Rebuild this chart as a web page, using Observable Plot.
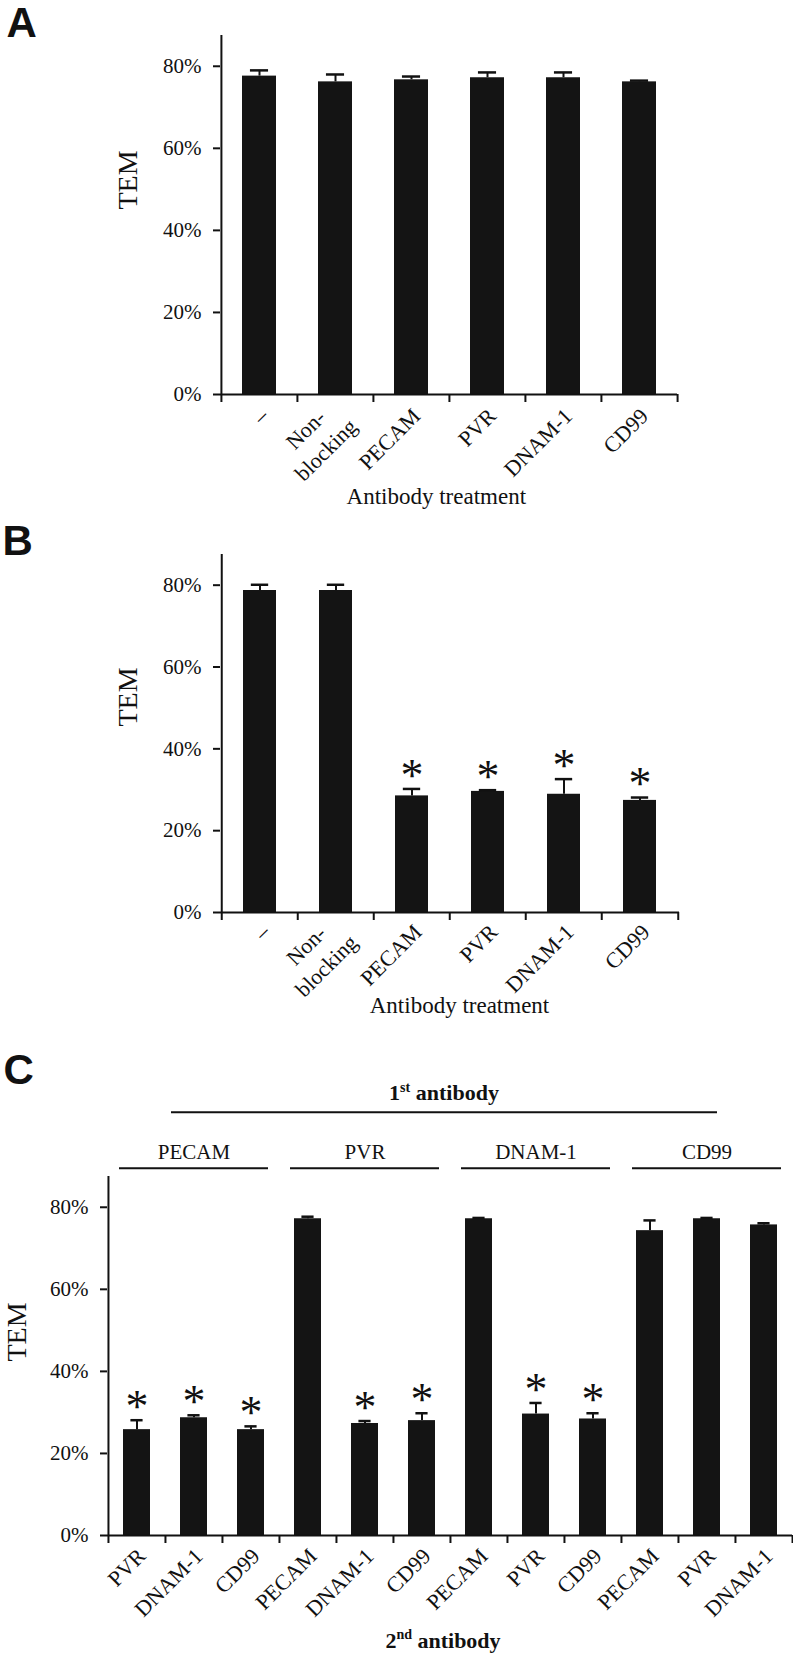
<!DOCTYPE html>
<html><head><meta charset="utf-8">
<script src="https://cdn.jsdelivr.net/npm/d3@7"></script>
<script src="https://cdn.jsdelivr.net/npm/@observablehq/plot@0.6"></script>
<style>
html,body{margin:0;padding:0;background:#fff;}
#root{position:relative;width:793px;height:1656px;overflow:hidden;background:#fff;}
.panel{position:absolute;left:0;}
</style></head><body><div id="root"></div>
<script>
// ---------- data ----------
const treatments = ["–", "Non-\nblocking", "PECAM", "PVR", "DNAM-1", "CD99"];
const temA = [77.6, 76.2, 76.7, 77.2, 77.2, 76.2];
const semA = [1.4, 1.8, 0.8, 1.3, 1.3, 0.3];
const sigA = [false, false, false, false, false, false];

const temB = [78.7, 78.7, 28.5, 29.6, 28.9, 27.4];
const semB = [1.4, 1.4, 1.7, 0.3, 3.7, 0.7];
const sigB = [false, false, true, true, true, true];

const firstAb  = ["PECAM","PECAM","PECAM","PVR","PVR","PVR","DNAM-1","DNAM-1","DNAM-1","CD99","CD99","CD99"];
const secondAb = ["PVR","DNAM-1","CD99","PECAM","DNAM-1","CD99","PECAM","PVR","CD99","PECAM","PVR","DNAM-1"];
const temC = [25.8, 28.7, 25.8, 77.2, 27.3, 28.0, 77.2, 29.6, 28.4, 74.3, 77.2, 75.7];
const semC = [2.3, 0.6, 0.8, 0.5, 0.6, 1.8, 0.2, 2.7, 1.4, 2.5, 0.2, 0.4];
const sigC = [true, true, true, false, true, true, false, true, true, false, false, false];
const groupsC = ["PECAM", "PVR", "DNAM-1", "CD99"];

const yTicks = [0, 20, 40, 60, 80];
const yMax = 87.5;

// ---------- drawing ----------
const ink = "#111";
const serif = '"Liberation Serif", "Times New Roman", serif';
const sans = '"Liberation Sans", Arial, sans-serif';
const root = document.getElementById("root");
const ctx = document.createElement("canvas").getContext("2d");
function textWidth(s, size, weight = "bold") {
  ctx.font = `${weight} ${size}px "Liberation Serif"`;
  return ctx.measureText(s).width;
}

function panelLetter(letter, dx, dy) {
  return Plot.text([letter], {frameAnchor: "top-left", textAnchor: "start", lineAnchor: "top",
    dx, dy, fontFamily: sans, fontWeight: "bold", fontSize: 42, fill: ink});
}

// ordinal title "1st antibody" built from three text marks (number, superscript, rest)
function ordinalTitle(num, suffix, rest, frameAnchor, centerDx, dy, supDy) {
  const w1 = textWidth(num, 22), w2 = textWidth(suffix, 14), w3 = textWidth(rest, 22);
  const start = centerDx - (w1 + w2 + w3) / 2;
  const common = {frameAnchor, textAnchor: "start", lineAnchor: "top", fontWeight: "bold", fill: ink};
  return [
    Plot.text([num], {...common, dx: start, dy, fontSize: 22}),
    Plot.text([suffix], {...common, dx: start + w1, dy: dy + supDy, fontSize: 14}),
    Plot.text([rest], {...common, dx: start + w1 + w2, dy, fontSize: 22})
  ];
}

function panel(o) {
  const {keys, labelOf, values, sems, sigs, width = 793, height, marginTop, marginBottom,
         marginLeft, marginRight, padding, capWidth, temDx, temDy, lblDx, lblDy, extra = []} = o;
  const rows = keys.map((k, i) => ({key: k, v: values[i], e: values[i] + sems[i], sig: sigs[i]}));
  const n = keys.length;
  const step = (width - marginLeft - marginRight) / n;
  const bw = step * (1 - padding);
  const capInset = (bw - capWidth) / 2;
  const single = keys.filter(k => !labelOf(k).includes("\n"));
  const multi = keys.filter(k => labelOf(k).includes("\n"));
  return Plot.plot({
    width, height, marginTop, marginBottom, marginLeft, marginRight,
    style: {fontFamily: serif, color: ink, background: "white", overflow: "visible"},
    x: {type: "band", domain: keys, paddingInner: padding, paddingOuter: padding / 2, align: 0.5},
    y: {domain: [0, yMax]},
    marks: [
      Plot.barY(rows, {x: "key", y: "v", fill: "#141414"}),
      Plot.ruleX(rows, {x: "key", y1: "v", y2: "e", stroke: ink, strokeWidth: 2}),
      Plot.tickY(rows, {x: "key", y: "e", stroke: ink, strokeWidth: 2.5, insetLeft: capInset, insetRight: capInset}),
      Plot.text(rows.filter(d => d.sig), {x: "key", y: "e", text: () => "*", fontSize: 46, dy: -13, lineAnchor: "middle", fill: ink}),
      Plot.ruleY([0], {stroke: ink, strokeWidth: 2}),
      Plot.ruleX([keys[0]], {y1: 0, y2: yMax, dx: -step / 2, stroke: ink, strokeWidth: 2}),
      Plot.axisY({ticks: yTicks, tickFormat: d => d + "%", tickSize: 7, tickPadding: 12, fontSize: 21, strokeWidth: 2, label: null}),
      Plot.axisX({ticks: keys, tickSize: 8, fill: "none", dx: -step / 2, strokeWidth: 2, label: null}),
      Plot.axisX({ticks: [keys[n - 1]], tickSize: 8, fill: "none", dx: step / 2, strokeWidth: 2, label: null}),
      // rotated category labels
      Plot.text(single, {x: d => d, y: () => 0, text: d => labelOf(d), rotate: () => -45,
                         textAnchor: "end", lineAnchor: "middle", dx: lblDx, dy: lblDy, fontSize: 22, fill: ink}),
      Plot.text(multi, {x: d => d, y: () => 0, text: d => labelOf(d), rotate: () => -45,
                        textAnchor: "middle", lineAnchor: "middle", lineHeight: 1.3, dx: -21, dy: lblDy + 26, fontSize: 22, fill: ink}),
      Plot.text(["TEM"], {frameAnchor: "left", rotate: -90, dx: temDx, dy: temDy, fontSize: 28, lineAnchor: "middle", fill: ink}),
      ...extra
    ]
  });
}

function place(el, top) {
  el.classList.add("panel");
  el.style.top = top + "px";
  root.appendChild(el);
}

// Panel A
const svgA = panel({
  keys: treatments, labelOf: k => k, values: temA, sems: semA, sigs: sigA,
  height: 510, marginTop: 35, marginBottom: 116, marginLeft: 220, marginRight: 116,
  padding: 0.555, capWidth: 18, temDx: -92, temDy: -5.5, lblDx: 5, lblDy: 18,
  extra: [
    Plot.text(["Antibody treatment"], {frameAnchor: "bottom", lineAnchor: "top", dx: -12.7, dy: 93, fontSize: 23, fill: ink}),
    panelLetter("A", 6 - 220, 7 - 35)
  ]
});
place(svgA, 0);

// Panel B
const svgB = panel({
  keys: treatments, labelOf: k => k, values: temB, sems: semB, sigs: sigB,
  height: 520, marginTop: 44, marginBottom: 118, marginLeft: 220, marginRight: 114,
  padding: 0.56, capWidth: 18, temDx: -92, temDy: -7, lblDx: 6, lblDy: 16,
  extra: [
    Plot.text(["Antibody treatment"], {frameAnchor: "bottom", lineAnchor: "top", dx: 9.5, dy: 84, fontSize: 23, fill: ink}),
    panelLetter("B", 2 - 220, 15 - 44)
  ]
});
place(svgB, 510);

// Panel C
const keysC = firstAb.map((f, i) => f + "|" + secondAb[i]);
const groupRows = groupsC.map(g => {
  const ks = keysC.filter((k, i) => firstAb[i] === g);
  return {name: g, first: ks[0], mid: ks[1], last: ks[ks.length - 1]};
});
const svgC = panel({
  keys: keysC, labelOf: k => k.split("|")[1], values: temC, sems: semC, sigs: sigC,
  height: 626, marginTop: 146, marginBottom: 121, marginLeft: 107, marginRight: 1,
  padding: 0.53, capWidth: 12, temDx: -90, temDy: 5.5, lblDx: 5, lblDy: 17,
  extra: [
    Plot.ruleY(groupRows, {y: () => yMax, x1: "first", x2: "last", insetLeft: -4, insetRight: -4, dy: -8.3, stroke: ink, strokeWidth: 2}),
    Plot.text(groupRows, {x: "mid", frameAnchor: "top", text: "name", lineAnchor: "top", dy: -32, fontSize: 21, fill: ink}),
    Plot.ruleY([yMax], {insetLeft: 64, insetRight: 75, dy: -64.3, stroke: ink, strokeWidth: 2}),
    ...ordinalTitle("1", "st", " antibody", "top", -6, -92, -2),
    ...ordinalTitle("2", "nd", " antibody", "bottom", -7, 97, -3),
    panelLetter("C", 3 - 107, 23.5 - 146)
  ]
});
place(svgC, 1030);
</script>
</body></html>
